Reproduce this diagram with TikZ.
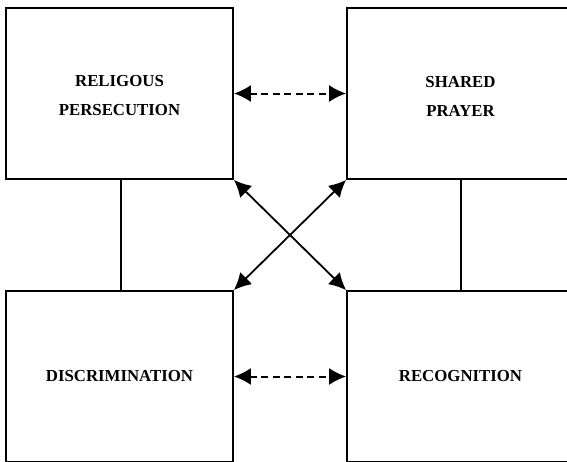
\documentclass[tikz,border=0pt]{standalone}
\usepackage{fontspec}
\setmainfont{Liberation Serif}
\usetikzlibrary{arrows.meta}
\newcommand{\toplift}{\rule{0pt}{16pt}}
\begin{document}
\begin{tikzpicture}[x=1pt,y=-1pt,
  panel/.style={draw=black, line width=1.8pt, minimum width=227pt, minimum height=171pt,
    align=center, font=\fontsize{16.8}{29}\selectfont\bfseries, inner sep=0pt},
  link/.style={line width=1.8pt},
  twoway/.style={line width=1.8pt, {Latex[length=17pt,width=17pt]}-{Latex[length=17pt,width=17pt]}},
  twowaydash/.style={twoway, line width=2pt, dash pattern=on 7pt off 4.5pt}]
  \useasboundingbox (0,0) rectangle (567,461);
  \clip (0,0) rectangle (567,461);
  \node[panel] (rp) at (119.5,93.5) {\toplift RELIGOUS\\PERSECUTION};
  \node[panel] (sp) at (460.5,93.5) {\toplift SHARED\\PRAYER};
  \node[panel] (di) at (119.5,376.5) {DISCRIMINATION};
  \node[panel] (rc) at (460.5,376.5) {RECOGNITION};
  % vertical ties between stacked panels
  \draw[link] ([xshift=1.5pt]rp.south) -- ([xshift=1.5pt]di.north);
  \draw[link] ([xshift=0.5pt]sp.south) -- ([xshift=0.5pt]rc.north);
  % horizontal two-way links
  \draw[twowaydash] (rp.east) -- (sp.west);
  \draw[twowaydash] (di.east) -- (rc.west);
  % diagonal two-way links
  \draw[twoway] (rp.south east) -- (rc.north west);
  \draw[twoway] (sp.south west) -- (di.north east);
\end{tikzpicture}
\end{document}
